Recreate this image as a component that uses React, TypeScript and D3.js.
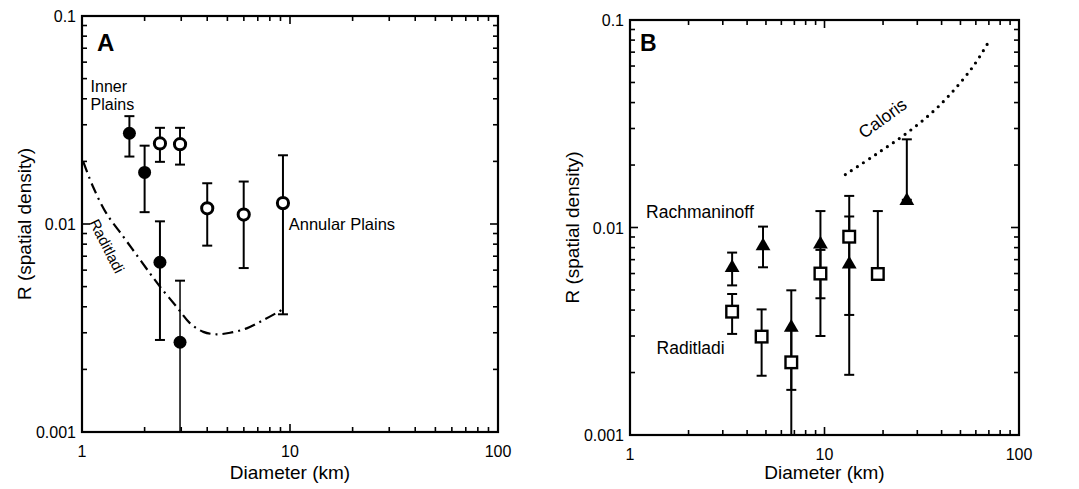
import * as d3 from 'd3';

// Panel A: crater density on Raditladi plains
const innerD = [1.69, 2.0, 2.37, 2.96];
const innerR = [0.0273, 0.0177, 0.00655, 0.0027];
const innerHi = [0.033, 0.0238, 0.0103, 0.00534];
const innerLo = [0.0211, 0.0114, 0.00277, 0.0008];

const annularD = [2.37, 2.96, 4.0, 5.99, 9.25];
const annularR = [0.0244, 0.0242, 0.0119, 0.0111, 0.0126];
const annularHi = [0.029, 0.029, 0.0157, 0.016, 0.0214];
const annularLo = [0.0199, 0.0193, 0.00787, 0.00614, 0.00368];

const raditCurveD = [1.015, 1.13, 1.31, 1.58, 1.83, 2.12, 2.37, 2.85, 3.31, 3.83, 4.44, 5.15, 6.19, 7.44, 9.12];
const raditCurveR = [0.0199, 0.0151, 0.01125, 0.00869, 0.0071, 0.0058, 0.005, 0.004, 0.00333, 0.00303, 0.00295, 0.003, 0.00315, 0.00345, 0.00386];

// Panel B
const rachD = [3.35, 4.83, 6.75, 9.53, 13.4, 26.5];
const rachR = [0.00647, 0.00824, 0.00333, 0.0084, 0.00672, 0.0136];
const rachHi = [0.00757, 0.0101, 0.00498, 0.012, 0.0142, 0.0266];
const rachLo = [0.00526, 0.00643, 0.0008, 0.00456, 0.00195, null];

const raditD = [3.35, 4.75, 6.75, 9.53, 13.4, 18.8];
const raditR = [0.00393, 0.00298, 0.00224, 0.006, 0.00903, 0.00597];
const raditHi = [0.00478, 0.00403, 0.0032, 0.0078, 0.0113, 0.012];
const raditLo = [0.00307, 0.00193, 0.00165, 0.003, 0.00379, null];

const calorisD = [12.8, 18.5, 27, 39.2, 57, 68.7];
const calorisR = [0.018, 0.0226, 0.0289, 0.0389, 0.0583, 0.0765];

const xTicks = [1, 10, 100];
const yTicks = [0.001, 0.01, 0.1];
const yTickLabels = ['0.001', '0.01', '0.1'];

const FONT = 'Liberation Sans, Arial, sans-serif';

type Box = { left: number; right: number; top: number; bottom: number };

function Frame({ box, x, y }: { box: Box; x: any; y: any }) {
  const minorX: number[] = [];
  const minorY: number[] = [];
  for (const dec of [1, 10]) for (let k = 2; k <= 9; k++) minorX.push(dec * k);
  for (const dec of [0.001, 0.01]) for (let k = 2; k <= 9; k++) minorY.push(dec * k);
  const lines: any[] = [];
  const add = (x1: number, y1: number, x2: number, y2: number) =>
    lines.push(<line key={lines.length} x1={x1} y1={y1} x2={x2} y2={y2} stroke="#000" strokeWidth={1.6} />);
  minorX.forEach(v => {
    add(x(v), box.bottom, x(v), box.bottom - 5);
    add(x(v), box.top, x(v), box.top + 5);
  });
  xTicks.forEach(v => {
    add(x(v), box.bottom, x(v), box.bottom - 8);
    add(x(v), box.top, x(v), box.top + 8);
  });
  minorY.forEach(v => {
    add(box.left, y(v), box.left + 5, y(v));
    add(box.right, y(v), box.right - 5, y(v));
  });
  yTicks.forEach(v => {
    add(box.left, y(v), box.left + 8, y(v));
    add(box.right, y(v), box.right - 8, y(v));
  });
  return (
    <g>
      {lines}
      <rect x={box.left} y={box.top} width={box.right - box.left} height={box.bottom - box.top}
        fill="none" stroke="#000" strokeWidth={2.2} />
      {xTicks.map(v => (
        <text key={'xt' + v} x={x(v)} y={box.bottom + 25} textAnchor="middle" fontSize={16} fontFamily={FONT}>{v}</text>
      ))}
      {yTicks.map((v, i) => (
        <text key={'yt' + v} x={box.left - 6} y={y(v) + 6} textAnchor="end" fontSize={16} fontFamily={FONT}>{yTickLabels[i]}</text>
      ))}
      <text x={(box.left + box.right) / 2} y={479} textAnchor="middle" fontSize={19} fontFamily={FONT}>Diameter (km)</text>
      <text transform={`translate(${box.left - 51},${(box.top + box.bottom) / 2}) rotate(-90)`} textAnchor="middle"
        fontSize={19} fontFamily={FONT}>R (spatial density)</text>
    </g>
  );
}

function ErrorBars({ ds, hi, lo, x, y, cap, clipId, w }: any) {
  return (
    <g clipPath={`url(#${clipId})`} stroke="#000" strokeWidth={w}>
      {ds.map((d: number, i: number) => {
        const cx = x(d);
        const hiY = y(hi[i]);
        const loY = lo[i] == null ? null : y(lo[i]);
        return (
          <g key={i}>
            <line x1={cx} x2={cx} y1={hiY} y2={loY == null ? y(hi[i]) + 0 : loY} />
            {loY == null ? null : null}
            <line x1={cx - cap} x2={cx + cap} y1={hiY} y2={hiY} />
            {loY != null && lo[i] > 0.001 ? <line x1={cx - cap} x2={cx + cap} y1={loY} y2={loY} /> : null}
          </g>
        );
      })}
    </g>
  );
}

function PanelA() {
  const box: Box = { left: 82, right: 498, top: 16, bottom: 432 };
  const x = d3.scaleLog().domain([1, 100]).range([box.left, box.right]);
  const y = d3.scaleLog().domain([0.001, 0.1]).range([box.bottom, box.top]);
  const curve = d3.line<number>().x((_, i) => x(raditCurveD[i])).y(d => y(d)).curve(d3.curveCatmullRom)(raditCurveR);
  const innerLoDraw = innerLo;
  return (
    <g>
      <defs>
        <clipPath id="clipA"><rect x={box.left} y={box.top} width={box.right - box.left} height={box.bottom - box.top} /></clipPath>
      </defs>
      <path d={curve || ''} fill="none" stroke="#000" strokeWidth={2.2} strokeDasharray="11 5 2 5" />
      {/* inner plains error bars (vertical line continues to the marker) */}
      <g clipPath="url(#clipA)" stroke="#000" strokeWidth={2}>
        {innerD.map((d, i) => (
          <g key={i}>
            <line x1={x(d)} x2={x(d)} y1={y(innerHi[i])} y2={y(innerLoDraw[i])} strokeWidth={i === 3 ? 1.5 : 2} />
            <line x1={x(d) - 5} x2={x(d) + 5} y1={y(innerHi[i])} y2={y(innerHi[i])} />
            {innerLoDraw[i] > 0.001 ? <line x1={x(d) - 5} x2={x(d) + 5} y1={y(innerLoDraw[i])} y2={y(innerLoDraw[i])} /> : null}
          </g>
        ))}
        {annularD.map((d, i) => (
          <g key={'a' + i}>
            <line x1={x(d)} x2={x(d)} y1={y(annularHi[i])} y2={y(annularLo[i])} />
            <line x1={x(d) - 5} x2={x(d) + 5} y1={y(annularHi[i])} y2={y(annularHi[i])} />
            <line x1={x(d) - 5} x2={x(d) + 5} y1={y(annularLo[i])} y2={y(annularLo[i])} />
          </g>
        ))}
      </g>
      {innerD.map((d, i) => (
        <circle key={'ic' + i} cx={x(d)} cy={y(innerR[i])} r={6.5} fill="#000" />
      ))}
      {annularD.map((d, i) => (
        <circle key={'ac' + i} cx={x(d)} cy={y(annularR[i])} r={5.6} fill="#fff" stroke="#000" strokeWidth={3} />
      ))}
      <Frame box={box} x={x} y={y} />
      <text x={x(1.18)} y={y(0.068)} fontSize={24} fontWeight="bold" fontFamily={FONT}>A</text>
      <text x={x(1.1)} y={y(0.0433)} fontSize={16} fontFamily={FONT}>Inner</text>
      <text x={x(1.1)} y={y(0.0353)} fontSize={16} fontFamily={FONT}>Plains</text>
      <text x={x(9.86)} y={y(0.00936)} fontSize={16.5} fontFamily={FONT}>Annular Plains</text>
      <text transform={`translate(${x(1.32)},${y(0.00784)}) rotate(63)`} textAnchor="middle" dominantBaseline="central"
        fontSize={15} fontFamily={FONT}>Raditladi</text>
    </g>
  );
}

function PanelB() {
  const box: Box = { left: 630, right: 1019, top: 20, bottom: 435 };
  const x = d3.scaleLog().domain([1, 100]).range([box.left, box.right]);
  const y = d3.scaleLog().domain([0.001, 0.1]).range([box.bottom, box.top]);
  const cal = d3.line<number>().x((_, i) => x(calorisD[i])).y(d => y(d)).curve(d3.curveCatmullRom)(calorisR);
  const tri = d3.symbol().type(d3.symbolTriangle).size(95)();
  return (
    <g>
      <defs>
        <clipPath id="clipB"><rect x={box.left} y={box.top} width={box.right - box.left} height={box.bottom - box.top} /></clipPath>
      </defs>
      <path d={cal || ''} fill="none" stroke="#000" strokeWidth={3.2} strokeDasharray="0 7.2" strokeLinecap="round" />
      <ErrorBars ds={rachD} hi={rachHi} lo={rachLo.map((v, i) => (v == null ? rachR[i] : v))} x={x} y={y} cap={5} clipId="clipB" w={2} />
      <ErrorBars ds={raditD} hi={raditHi} lo={raditLo.map((v, i) => (v == null ? raditR[i] : v))} x={x} y={y} cap={5} clipId="clipB" w={2} />
      {raditD.map((d, i) => (
        <rect key={'s' + i} x={x(d) - 5.8} y={y(raditR[i]) - 5.8} width={11.6} height={11.6} fill="#fff" stroke="#000" strokeWidth={2.4} />
      ))}
      {rachD.map((d, i) => (
        <path key={'t' + i} d={tri || ''} transform={`translate(${x(d)},${y(rachR[i]) + 1})`} fill="#000" />
      ))}
      <Frame box={box} x={x} y={y} />
      <text x={x(1.125)} y={y(0.0711)} fontSize={23} fontWeight="bold" fontFamily={FONT}>B</text>
      <text x={x(1.21)} y={y(0.01107)} fontSize={17.5} fontFamily={FONT}>Rachmaninoff</text>
      <text x={x(1.37)} y={y(0.00246)} fontSize={17.5} fontFamily={FONT}>Raditladi</text>
      <text transform={`translate(${x(19.9)},${y(0.0336)}) rotate(-36)`} textAnchor="middle" dominantBaseline="central"
        fontSize={17.5} fontFamily={FONT}>Caloris</text>
    </g>
  );
}

export default function App() {
  return (
    <div style={{ position: 'fixed', left: 0, top: 0 }}>
      <svg width={1079} height={489} style={{ display: 'block', background: '#fff' }}>
        <PanelA />
        <PanelB />
      </svg>
    </div>
  );
}
